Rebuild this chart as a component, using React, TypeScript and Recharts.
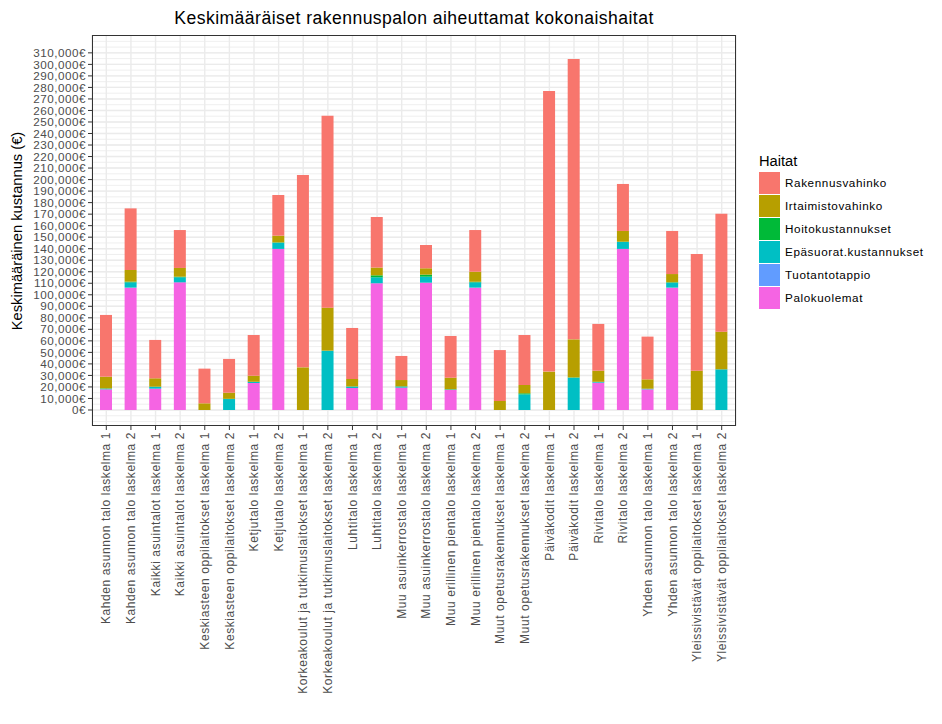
import React from "react";
import { BarChart, Bar, XAxis, YAxis, CartesianGrid } from "recharts";

const CATEGORIES = [
  "Kahden asunnon talo laskelma 1",
  "Kahden asunnon talo laskelma 2",
  "Kaikki asuintalot laskelma 1",
  "Kaikki asuintalot laskelma 2",
  "Keskiasteen oppilaitokset laskelma 1",
  "Keskiasteen oppilaitokset laskelma 2",
  "Ketjutalo laskelma 1",
  "Ketjutalo laskelma 2",
  "Korkeakoulut ja tutkimuslaitokset laskelma 1",
  "Korkeakoulut ja tutkimuslaitokset laskelma 2",
  "Luhtitalo laskelma 1",
  "Luhtitalo laskelma 2",
  "Muu asuinkerrostalo laskelma 1",
  "Muu asuinkerrostalo laskelma 2",
  "Muu erillinen pientalo laskelma 1",
  "Muu erillinen pientalo laskelma 2",
  "Muut opetusrakennukset laskelma 1",
  "Muut opetusrakennukset laskelma 2",
  "Päiväkodit laskelma 1",
  "Päiväkodit laskelma 2",
  "Rivitalo laskelma 1",
  "Rivitalo laskelma 2",
  "Yhden asunnon talo laskelma 1",
  "Yhden asunnon talo laskelma 2",
  "Yleissivistävät oppilaitokset laskelma 1",
  "Yleissivistävät oppilaitokset laskelma 2",
];

// values in euros
const PALOKUOLEMAT = [
  17900, 106200, 18500, 110800, 0, 0, 23400, 139800, 0, 0, 19100, 110000, 19400,
  110500, 17400, 106200, 0, 0, 0, 0, 23700, 139800, 17900, 106200, 0, 0,
];
const TUOTANTOTAPPIO = [
  0, 0, 0, 0, 0, 0, 0, 0, 0, 0, 0, 0, 0, 0, 0, 0, 0, 0, 0, 0, 0, 0, 0, 0, 0, 0,
];
const EPASUORAT = [
  600, 4600, 1500, 4400, 0, 9500, 900, 5400, 0, 51500, 1200, 5200, 900, 5200, 400,
  4600, 0, 13600, 0, 28000, 600, 6000, 400, 4300, 0, 35300,
];
const HOITO = [
  300, 600, 300, 500, 0, 200, 200, 300, 0, 0, 200, 1700, 300, 1800, 200, 500, 0,
  900, 0, 300, 200, 300, 200, 400, 0, 0,
];
const IRTAIMISTO = [
  10100, 10100, 7200, 7600, 5800, 5300, 5300, 5800, 37000, 37300, 6400, 6700, 5400,
  5500, 10000, 8700, 7800, 7200, 33300, 33000, 9600, 9300, 8100, 7100, 34100, 32700,
];
const RAKENNUS = [
  53600, 53500, 33300, 32900, 30100, 29300, 35300, 35300, 167000, 166700, 44300,
  43900, 20900, 20200, 36200, 36200, 44200, 43400, 243600, 243400, 40600, 40800,
  37100, 37400, 101300, 102400,
];

const Y_TICKS = [
  0, 10000, 20000, 30000, 40000, 50000, 60000, 70000, 80000, 90000, 100000,
  110000, 120000, 130000, 140000, 150000, 160000, 170000, 180000, 190000, 200000,
  210000, 220000, 230000, 240000, 250000, 260000, 270000, 280000, 290000, 300000,
  310000,
];

const SERIES = [
  { key: "Palokuolemat", values: PALOKUOLEMAT, color: "#F564E3" },
  { key: "Tuotantotappio", values: TUOTANTOTAPPIO, color: "#619CFF" },
  { key: "Epäsuorat.kustannukset", values: EPASUORAT, color: "#00BFC4" },
  { key: "Hoitokustannukset", values: HOITO, color: "#00BA38" },
  { key: "Irtaimistovahinko", values: IRTAIMISTO, color: "#B79F00" },
  { key: "Rakennusvahinko", values: RAKENNUS, color: "#F8766D" },
];

const data = CATEGORIES.map((name, i) => {
  const row: Record<string, any> = { name };
  SERIES.forEach((s) => {
    row[s.key] = s.values[i];
  });
  return row;
});

const step = Y_TICKS[1] - Y_TICKS[0];
const extended = [Y_TICKS[0] - step, ...Y_TICKS, Y_TICKS[Y_TICKS.length - 1] + step];
const MINOR = extended.flatMap((v, i) => (i < extended.length - 1 ? [v, v + step / 2] : [v]));

const FONT = '"Liberation Sans", Arial, sans-serif';

const fmt = (v: number) => v.toLocaleString("en-US") + "€";

const XTick = (props: any) => {
  const { x, y, payload } = props;
  return (
    <text
      x={x}
      y={y}
      transform={`rotate(-90, ${x}, ${y})`}
      textAnchor="end"
      dy="0.35em"
      fill="#4D4D4D"
      fontSize={12}
      letterSpacing={0.6}
      fontFamily={FONT}
    >
      {payload.value}
    </text>
  );
};

export default function App() {
  const legendItems = [...SERIES].reverse();
  return (
    <div
      style={{
        position: "absolute",
        left: 0,
        top: 0,
        width: 942,
        height: 724,
        background: "#fff",
        fontFamily: FONT,
      }}
    >
      <BarChart
        width={942}
        height={724}
        data={data}
        margin={{ top: 35, right: 206, left: 0, bottom: 8 }}
        barSize={12}
      >
        <CartesianGrid
          vertical={false}
          horizontalValues={MINOR}
          stroke="#EBEBEB"
          strokeWidth={0.8}
        />
        <CartesianGrid
          horizontalValues={Y_TICKS}
          stroke="#EBEBEB"
          strokeWidth={1.4}
        />
        <XAxis
          dataKey="name"
          interval={0}
          height={290}
          tick={<XTick />}
          tickSize={4}
          tickMargin={2}
          tickLine={{ stroke: "#333333" }}
          axisLine={false}
          padding={{ left: 2, right: 2 }}
        />
        <YAxis
          type="number"
          domain={[-13900, 325500]}
          allowDataOverflow
          ticks={Y_TICKS}
          interval={0}
          width={92}
          tickSize={4}
          tickMargin={2}
          tickFormatter={fmt}
          tick={{ fill: "#4D4D4D", fontSize: 11.7, fontFamily: FONT, letterSpacing: 0.5 }}
          tickLine={{ stroke: "#333333" }}
          axisLine={false}
        />
        {SERIES.map((s) => (
          <Bar
            key={s.key}
            dataKey={s.key}
            stackId="a"
            fill={s.color}
            isAnimationActive={false}
          />
        ))}
      </BarChart>

      <div
        style={{
          position: "absolute",
          left: 92,
          top: 35,
          width: 644,
          height: 391,
          border: "1px solid #333333",
          boxSizing: "border-box",
          pointerEvents: "none",
        }}
      />

      <div
        style={{
          position: "absolute",
          left: 414,
          top: 18,
          transform: "translate(-50%, -50%)",
          whiteSpace: "nowrap",
          fontSize: 17.6,
          letterSpacing: 0.45,
          color: "#000",
        }}
      >
        Keskimääräiset rakennuspalon aiheuttamat kokonaishaitat
      </div>

      <div
        style={{
          position: "absolute",
          left: 17,
          top: 230.5,
          transform: "translate(-50%, -50%) rotate(-90deg)",
          whiteSpace: "nowrap",
          fontSize: 14.7,
          color: "#000",
        }}
      >
        Keskimääräinen kustannus (€)
      </div>

      <div style={{ position: "absolute", left: 759, top: 151 }}>
        <div style={{ fontSize: 14.7, color: "#000", lineHeight: "20px" }}>Haitat</div>
        {legendItems.map((s) => (
          <div
            key={s.key}
            style={{ display: "flex", alignItems: "center", height: 23 }}
          >
            <div
              style={{
                width: 21,
                height: 22,
                background: s.color,
                marginRight: 5,
              }}
            />
            <span style={{ fontSize: 11.7, color: "#000", letterSpacing: 0.6 }}>{s.key}</span>
          </div>
        ))}
      </div>
    </div>
  );
}
